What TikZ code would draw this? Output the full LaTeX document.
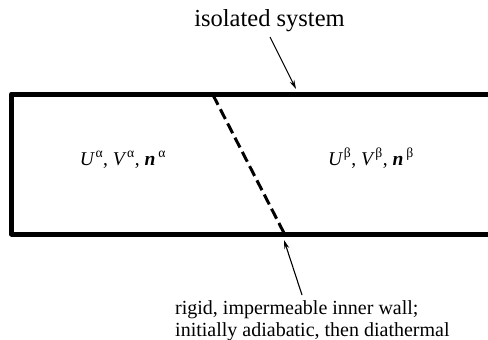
\documentclass[tikz,border=0pt]{standalone}
\usepackage{fontspec}
\setmainfont{Liberation Serif}
\usetikzlibrary{arrows.meta}
\tikzset{
  wall/.style={line width=5pt, line join=round, line cap=round},
  innerwall/.style={line width=3pt, dash pattern=on 11pt off 5pt},
  pointer/.style={line width=1.1pt, -{Stealth[length=9pt,width=5pt]}},
  lbl/.style={inner sep=0pt, font=\fontsize{19.5}{22}\selectfont},
}
\newcommand{\sym}[2]{#1\kern0.5pt\textsuperscript{#2}}
\begin{document}
\begin{tikzpicture}[x=1pt,y=-1pt]
\useasboundingbox (0,0) rectangle (488,340);
% outer wall
\coordinate (tr) at (490,94);
\coordinate (tl) at (11.5,94);
\coordinate (bl) at (11.5,234);
\coordinate (br) at (490,234);
\draw[wall] (tr) -- (tl) -- (bl) -- (br);
% inner wall
\coordinate (wtop) at (213,95);
\coordinate (wbot) at (284,233);
\draw[innerwall] (wtop) -- (wbot);
% labels
\node[lbl, anchor=base] (alpha) at (123,165) {\sym{\textit{U}}{α}, \sym{\textit{V}}{α}, \textbf{\textit{n}}\kern3pt\textsuperscript{α}};
\node[lbl, anchor=base] (beta) at (371,165) {\sym{\textit{U}}{β}, \sym{\textit{V}}{β}, \textbf{\textit{n}}\kern3pt\textsuperscript{β}};
\node[inner sep=0pt, anchor=base, font=\fontsize{24.5}{26}\selectfont] (title) at (269.5,27) {isolated system};
\node[inner sep=0pt, anchor=north west, align=left, font=\fontsize{20}{21.5}\selectfont] (note) at (175,300.5) {rigid, impermeable inner wall;\\initially adiabatic, then diathermal};
% pointers
\coordinate (t1) at (270,37);
\coordinate (t2) at (296,89);
\coordinate (b1) at (302,295);
\coordinate (b2) at (284,240);
\draw[pointer] (t1) -- (t2);
\draw[pointer] (b1) -- (b2);
\end{tikzpicture}
\end{document}
